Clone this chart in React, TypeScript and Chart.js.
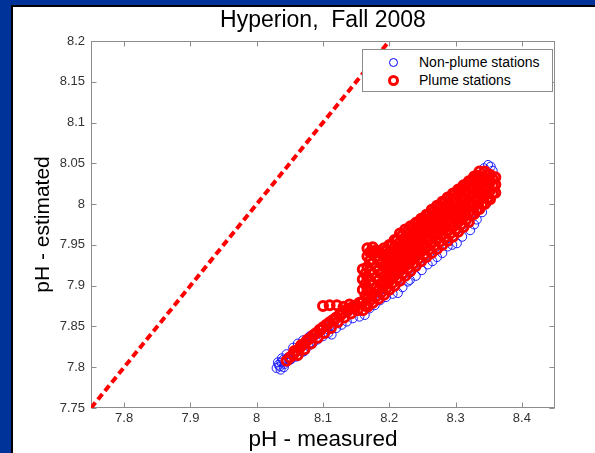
import React, { useEffect, useRef } from "react";
import { Chart, registerables } from "chart.js";

Chart.register(...registerables);

const titleText = "Hyperion,  Fall 2008";
const xLabel = "pH - measured";
const yLabel = "pH - estimated";
const legendLabels = ["Non-plume stations", "Plume stations"];

const xMin = 7.75;
const xMax = 8.45;
const yMin = 7.75;
const yMax = 8.2;
const xTicks = [7.8, 7.9, 8.0, 8.1, 8.2, 8.3, 8.4];
const yTicks = [7.75, 7.8, 7.85, 7.9, 7.95, 8.0, 8.05, 8.1, 8.15, 8.2];

const oneToOne: [number, number][] = [
  [7.75, 7.75],
  [8.2, 8.2],
];

const nonPlume: [number, number][] = [
  [8.030, 7.799], [8.033, 7.803], [8.035, 7.801], [8.037, 7.806], [8.040, 7.809],
  [8.042, 7.804], [8.044, 7.807], [8.047, 7.812], [8.050, 7.809], [8.052, 7.810],
  [8.057, 7.817], [8.060, 7.813], [8.062, 7.814], [8.066, 7.824], [8.070, 7.819],
  [8.072, 7.820], [8.078, 7.826], [8.085, 7.830], [8.092, 7.834], [8.100, 7.838],
  [8.108, 7.842], [8.113, 7.840], [8.120, 7.848], [8.128, 7.852], [8.136, 7.856],
  [8.145, 7.860], [8.155, 7.862], [8.163, 7.864], [8.170, 7.872], [8.178, 7.876],
  [8.186, 7.882], [8.195, 7.886], [8.205, 7.890], [8.213, 7.891], [8.220, 7.898],
  [8.228, 7.905], [8.231, 7.907], [8.240, 7.912], [8.249, 7.919], [8.258, 7.926],
  [8.265, 7.930], [8.272, 7.935], [8.280, 7.940], [8.288, 7.948], [8.295, 7.950],
  [8.302, 7.952], [8.310, 7.960], [8.322, 7.968], [8.328, 7.975], [8.332, 7.981],
  [8.340, 7.990], [8.346, 8.000], [8.341, 8.008], [8.322, 7.993], [8.343, 8.044],
  [8.349, 8.048], [8.353, 8.046], [8.356, 8.041], [8.150, 7.875], [8.200, 7.910],
  [8.250, 7.950], [8.300, 7.990], [8.320, 8.005], [8.330, 8.015], [8.270, 7.965],
  [8.230, 7.930], [8.180, 7.890], [8.110, 7.850], [8.080, 7.830], [8.032, 7.806],
  [8.038, 7.811], [8.045, 7.816], [8.055, 7.824], [8.062, 7.829], [8.070, 7.833],
  [8.080, 7.838], [8.090, 7.842], [8.036, 7.797], [8.041, 7.800],
];

const plume: [number, number][] = [
  // narrow lower tail
  [8.045, 7.808], [8.050, 7.812], [8.055, 7.816], [8.060, 7.820], [8.065, 7.824],
  [8.070, 7.828], [8.075, 7.832], [8.080, 7.835], [8.085, 7.839], [8.090, 7.842],
  [8.095, 7.846], [8.100, 7.849], [8.105, 7.852], [8.110, 7.855], [8.115, 7.858],
  [8.120, 7.861], [8.125, 7.864], [8.130, 7.867], [8.135, 7.870], [8.140, 7.872],
  [8.145, 7.874], [8.150, 7.876], [8.155, 7.879],
  [8.062, 7.815], [8.072, 7.822], [8.082, 7.829], [8.092, 7.836], [8.102, 7.842],
  [8.112, 7.848], [8.122, 7.855], [8.132, 7.861], [8.142, 7.866], [8.152, 7.870],
  [8.057, 7.820], [8.067, 7.827], [8.077, 7.834], [8.087, 7.840], [8.097, 7.846],
  [8.107, 7.852], [8.117, 7.858], [8.127, 7.864], [8.137, 7.869], [8.147, 7.873],
  // small step to the left
  [8.100, 7.875], [8.110, 7.876], [8.121, 7.876], [8.131, 7.874], [8.140, 7.877],
  // wide upper body
  [8.160, 7.870], [8.160, 7.880], [8.160, 7.895], [8.160, 7.908], [8.160, 7.920],
  [8.164, 7.876], [8.164, 7.888], [8.164, 7.902], [8.164, 7.915],
  [8.167, 7.874], [8.167, 7.884], [8.167, 7.896], [8.167, 7.910], [8.167, 7.923], [8.167, 7.936], [8.167, 7.946],
  [8.171, 7.882], [8.171, 7.893], [8.171, 7.905], [8.171, 7.918], [8.171, 7.931], [8.171, 7.941],
  [8.175, 7.879], [8.175, 7.890], [8.175, 7.902], [8.175, 7.915], [8.175, 7.928], [8.175, 7.940], [8.175, 7.947],
  [8.180, 7.887], [8.180, 7.898], [8.180, 7.910], [8.180, 7.923], [8.180, 7.935], [8.180, 7.943],
  [8.184, 7.884], [8.184, 7.895], [8.184, 7.907], [8.184, 7.919], [8.184, 7.931], [8.184, 7.942],
  [8.188, 7.892], [8.188, 7.903], [8.188, 7.915], [8.188, 7.927], [8.188, 7.939],
  [8.192, 7.889], [8.192, 7.900], [8.192, 7.912], [8.192, 7.924], [8.192, 7.936], [8.192, 7.946],
  [8.196, 7.897], [8.196, 7.909], [8.196, 7.921], [8.196, 7.933], [8.196, 7.944],
  [8.200, 7.895], [8.200, 7.906], [8.200, 7.918], [8.200, 7.930], [8.200, 7.941], [8.200, 7.950],
  [8.204, 7.903], [8.204, 7.915], [8.204, 7.927], [8.204, 7.939], [8.204, 7.950],
  [8.208, 7.900], [8.208, 7.912], [8.208, 7.924], [8.208, 7.936], [8.208, 7.947], [8.208, 7.956],
  [8.212, 7.909], [8.212, 7.921], [8.212, 7.933], [8.212, 7.945], [8.212, 7.956],
  [8.216, 7.906], [8.216, 7.918], [8.216, 7.930], [8.216, 7.942], [8.216, 7.953], [8.216, 7.964],
  [8.220, 7.915], [8.220, 7.927], [8.220, 7.939], [8.220, 7.951], [8.220, 7.962],
  [8.224, 7.912], [8.224, 7.924], [8.224, 7.936], [8.224, 7.948], [8.224, 7.959], [8.224, 7.969],
  [8.228, 7.921], [8.228, 7.933], [8.228, 7.945], [8.228, 7.957], [8.228, 7.967],
  [8.232, 7.918], [8.232, 7.930], [8.232, 7.942], [8.232, 7.954], [8.232, 7.965], [8.232, 7.973],
  [8.236, 7.927], [8.236, 7.939], [8.236, 7.951], [8.236, 7.962], [8.236, 7.972],
  [8.240, 7.924], [8.240, 7.936], [8.240, 7.948], [8.240, 7.959], [8.240, 7.970], [8.240, 7.977],
  [8.244, 7.933], [8.244, 7.945], [8.244, 7.957], [8.244, 7.968], [8.244, 7.977],
  [8.248, 7.930], [8.248, 7.942], [8.248, 7.954], [8.248, 7.965], [8.248, 7.975], [8.248, 7.982],
  [8.252, 7.938], [8.252, 7.950], [8.252, 7.962], [8.252, 7.973], [8.252, 7.982],
  [8.256, 7.935], [8.256, 7.947], [8.256, 7.959], [8.256, 7.970], [8.256, 7.980], [8.256, 7.987],
  [8.260, 7.944], [8.260, 7.956], [8.260, 7.967], [8.260, 7.978], [8.260, 7.987],
  [8.264, 7.940], [8.264, 7.952], [8.264, 7.964], [8.264, 7.975], [8.264, 7.985], [8.264, 7.993],
  [8.268, 7.949], [8.268, 7.961], [8.268, 7.972], [8.268, 7.983], [8.268, 7.992],
  [8.272, 7.945], [8.272, 7.957], [8.272, 7.969], [8.272, 7.980], [8.272, 7.990], [8.272, 7.998],
  [8.276, 7.954], [8.276, 7.966], [8.276, 7.977], [8.276, 7.988], [8.276, 7.997],
  [8.280, 7.950], [8.280, 7.962], [8.280, 7.974], [8.280, 7.985], [8.280, 7.995], [8.280, 8.003],
  [8.284, 7.959], [8.284, 7.971], [8.284, 7.982], [8.284, 7.993], [8.284, 8.002],
  [8.288, 7.955], [8.288, 7.967], [8.288, 7.979], [8.288, 7.990], [8.288, 8.000], [8.288, 8.008],
  [8.292, 7.964], [8.292, 7.976], [8.292, 7.987], [8.292, 7.998], [8.292, 8.007],
  [8.296, 7.960], [8.296, 7.972], [8.296, 7.984], [8.296, 7.995], [8.296, 8.005], [8.296, 8.013],
  [8.300, 7.969], [8.300, 7.981], [8.300, 7.993], [8.300, 8.004], [8.300, 8.013],
  [8.304, 7.966], [8.304, 7.978], [8.304, 7.990], [8.304, 8.001], [8.304, 8.011], [8.304, 8.018],
  [8.308, 7.975], [8.308, 7.987], [8.308, 7.999], [8.308, 8.009], [8.308, 8.018],
  [8.312, 7.972], [8.312, 7.984], [8.312, 7.996], [8.312, 8.007], [8.312, 8.016], [8.312, 8.023],
  [8.316, 7.981], [8.316, 7.993], [8.316, 8.005], [8.316, 8.015], [8.316, 8.023],
  [8.320, 7.978], [8.320, 7.990], [8.320, 8.002], [8.320, 8.013], [8.320, 8.022], [8.320, 8.028],
  [8.324, 7.987], [8.324, 7.999], [8.324, 8.010], [8.324, 8.021], [8.324, 8.029],
  [8.328, 7.988], [8.328, 7.998], [8.328, 8.008], [8.328, 8.019], [8.328, 8.028], [8.328, 8.034],
  [8.332, 7.993], [8.332, 8.004], [8.332, 8.016], [8.332, 8.027], [8.332, 8.035],
  [8.336, 7.994], [8.336, 8.004], [8.336, 8.014], [8.336, 8.025], [8.336, 8.034], [8.336, 8.040],
  [8.340, 8.000], [8.340, 8.011], [8.340, 8.022], [8.340, 8.032],
  [8.344, 8.000], [8.344, 8.010], [8.344, 8.021], [8.344, 8.031], [8.344, 8.040],
  [8.348, 8.007], [8.348, 8.018], [8.348, 8.028], [8.348, 8.036],
  [8.352, 8.006], [8.352, 8.017], [8.352, 8.027], [8.352, 8.036],
  [8.356, 8.013], [8.356, 8.023], [8.356, 8.031],
  [8.360, 8.014], [8.360, 8.024], [8.360, 8.033],
];

const FONT = "Arial, 'Liberation Sans', sans-serif";
const FRAME = "#8c8c8c";

const fmt = (v: number) => String(Number(v.toFixed(2)));

const framePlugin = {
  id: "matlabFrame",
  beforeDatasetsDraw(chart: any) {
    const { ctx, chartArea: a, scales } = chart;
    ctx.save();
    ctx.strokeStyle = FRAME;
    ctx.lineWidth = 1;
    const l = Math.round(a.left) + 0.5;
    const r = Math.round(a.right) - 0.5;
    const t = Math.round(a.top) + 0.5;
    const b = Math.round(a.bottom) - 0.5;
    ctx.strokeRect(l, t, r - l, b - t);
    ctx.beginPath();
    xTicks.forEach((v) => {
      const px = Math.round(scales.x.getPixelForValue(v)) + 0.5;
      ctx.moveTo(px, b);
      ctx.lineTo(px, b - 5);
      ctx.moveTo(px, t);
      ctx.lineTo(px, t + 5);
    });
    yTicks.forEach((v) => {
      const py = Math.round(scales.y.getPixelForValue(v)) + 0.5;
      ctx.moveTo(l, py);
      ctx.lineTo(l + 5, py);
      ctx.moveTo(r, py);
      ctx.lineTo(r - 5, py);
    });
    ctx.stroke();
    ctx.restore();
  },
};

export default function App() {
  const ref = useRef<HTMLCanvasElement>(null);

  useEffect(() => {
    if (!ref.current) return;
    const chart = new Chart(ref.current, {
      type: "scatter",
      data: {
        datasets: [
          {
            label: legendLabels[0],
            data: nonPlume.map(([x, y]) => ({ x, y })),
            pointStyle: "circle",
            pointRadius: 4.5,
            borderWidth: 1,
            borderColor: "#1a1aff",
            backgroundColor: "rgba(0,0,0,0)",
            order: 3,
          },
          {
            label: legendLabels[1],
            data: plume.map(([x, y]) => ({ x, y })),
            pointStyle: "circle",
            pointRadius: 4.5,
            borderWidth: 3,
            borderColor: "#ff0000",
            backgroundColor: "rgba(0,0,0,0)",
            order: 2,
          },
          {
            label: "1:1",
            type: "line",
            data: oneToOne.map(([x, y]) => ({ x, y })),
            borderColor: "#ff0000",
            borderWidth: 4,
            borderDash: [7, 4],
            pointRadius: 0,
            fill: false,
            order: 1,
          } as any,
        ],
      },
      options: {
        responsive: false,
        animation: false,
        events: [],
        layout: { padding: { left: 0, right: 40, top: 0, bottom: 0 } },
        plugins: {
          legend: { display: false },
          tooltip: { enabled: false },
          title: {
            display: true,
            fullSize: false,
            text: titleText,
            color: "#000",
            font: { family: FONT, size: 23, weight: "normal" },
            padding: { top: 0, bottom: 6.4 },
          },
        },
        scales: {
          x: {
            type: "linear",
            min: xMin,
            max: xMax,
            afterBuildTicks: (s: any) => {
              s.ticks = xTicks.map((v) => ({ value: v }));
            },
            afterFit: (s: any) => {
              s.height = 45;
            },
            grid: { display: false, drawTicks: false, tickLength: 0 },
            border: { display: false },
            ticks: {
              color: "#333",
              font: { family: FONT, size: 13 },
              padding: 3,
              maxRotation: 0,
              autoSkip: false,
              callback: (v: any) => fmt(Number(v)),
            },
            title: {
              display: true,
              text: xLabel,
              color: "#000",
              font: { family: FONT, size: 22.5 },
              padding: { top: 0, bottom: 0 },
            },
          },
          y: {
            type: "linear",
            min: yMin,
            max: yMax,
            afterBuildTicks: (s: any) => {
              s.ticks = yTicks.map((v) => ({ value: v }));
            },
            afterFit: (s: any) => {
              s.width = 78;
            },
            grid: { display: false, drawTicks: false, tickLength: 0 },
            border: { display: false },
            ticks: {
              color: "#333",
              font: { family: FONT, size: 13 },
              padding: 6,
              autoSkip: false,
              callback: (v: any) => fmt(Number(v)),
            },
            title: {
              display: true,
              text: yLabel,
              color: "#000",
              font: { family: FONT, size: 21 },
              padding: { top: 17.4, bottom: 0 },
            },
          },
        },
      },
      plugins: [framePlugin],
    });
    return () => chart.destroy();
  }, []);

  return (
    <div
      style={{
        position: "fixed",
        left: 0,
        top: 0,
        width: 595,
        height: 453,
        background: "#003399",
        overflow: "hidden",
      }}
    >
      <div style={{ position: "absolute", left: 11, top: 5, right: 0, bottom: 0, background: "#000" }} />
      <div
        style={{
          position: "absolute",
          left: 13,
          top: 7,
          width: 582,
          height: 446,
          background: "#fff",
        }}
      >
        <canvas ref={ref} width={582} height={446} style={{ display: "block" }} />
        <div
          style={{
            position: "absolute",
            left: 349,
            top: 42,
            width: 191,
            height: 43,
            boxSizing: "border-box",
            border: `1px solid ${FRAME}`,
            background: "#fff",
            fontFamily: FONT,
            fontSize: 14,
            color: "#000",
          }}
        >
          <div
            style={{
              position: "absolute",
              left: 26,
              top: 8,
              width: 9,
              height: 9,
              boxSizing: "border-box",
              borderRadius: "50%",
              border: "1px solid #0000ff",
            }}
          />
          <div style={{ position: "absolute", left: 56, top: 4, lineHeight: "16px", whiteSpace: "nowrap" }}>
            {legendLabels[0]}
          </div>
          <div
            style={{
              position: "absolute",
              left: 25,
              top: 25,
              width: 11,
              height: 11,
              boxSizing: "border-box",
              borderRadius: "50%",
              border: "3px solid #ff0000",
            }}
          />
          <div style={{ position: "absolute", left: 56, top: 22, lineHeight: "16px", whiteSpace: "nowrap" }}>
            {legendLabels[1]}
          </div>
        </div>
      </div>
    </div>
  );
}
